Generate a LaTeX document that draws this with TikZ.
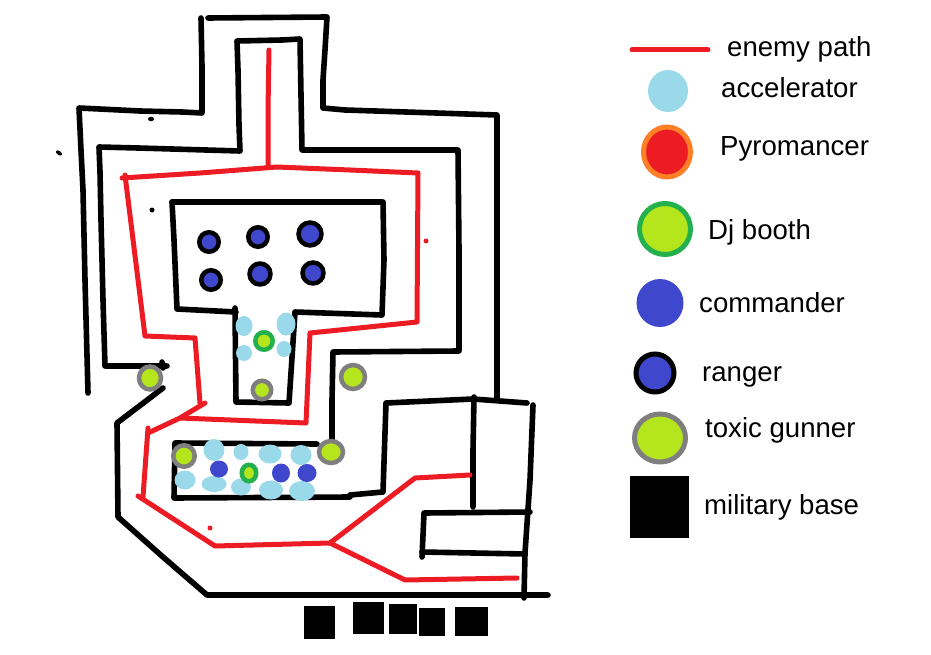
\documentclass[tikz,border=0pt]{standalone}
\usepackage{fontspec}
\setmainfont{Liberation Sans}
\usetikzlibrary{shapes.geometric}
\definecolor{pathred}{HTML}{ED1C24}
\definecolor{accblue}{HTML}{99D9EA}
\definecolor{pyroorange}{HTML}{FF7F27}
\definecolor{lime}{HTML}{B5E61D}
\definecolor{djgreen}{HTML}{22B14C}
\definecolor{cmdblue}{HTML}{3F48CC}
\definecolor{gunnergray}{HTML}{7F7F7F}
\tikzset{
  wall/.style={line width=5.6pt,line cap=round,line join=round,black},
  route/.style={line width=5pt,line cap=round,line join=round,pathred},
  blob/.style 2 args={ellipse,inner sep=0pt,outer sep=0pt,minimum width=#1 pt,minimum height=#2 pt},
  acc/.style 2 args={blob={#1}{#2},fill=accblue},
  cmd/.style 2 args={blob={#1}{#2},fill=cmdblue},
  ranger/.style={blob={#1}{#1},fill=cmdblue,draw=black,line width=4.5pt},
  gunner/.style 2 args={blob={#1}{#2},fill=lime,draw=gunnergray,line width=4.5pt},
  dj/.style 2 args={blob={#1}{#2},fill=lime,draw=djgreen,line width=4.5pt},
  base/.style={fill=black},
  lbl/.style={anchor=base west,inner sep=0pt,font=\fontsize{27.6}{30}\selectfont,text=black},
}
\begin{document}
\begin{tikzpicture}[x=1pt,y=-1pt]
\useasboundingbox (0,0) rectangle (931,655);
% outer wall
\draw[wall] (88,393) -- (85,280) -- (83,190) -- (81,150) -- (79,108) -- (140,111) -- (182,112) -- (202,113) -- (202,66) -- (201,18);
\draw[wall] (208,18) -- (327,17) -- (325,50) -- (323,80) -- (323,108) -- (345,110) -- (497,115) -- (497,400);
% inner corridor wall
\draw[wall] (167,366) -- (105,366) -- (103,300) -- (101,220) -- (100,172) -- (99,147) -- (138,148) -- (206,150) -- (240,151) -- (239,125) -- (238,70) -- (237,41) -- (282,40) -- (300,39) -- (301,95) -- (302,150) -- (458,150) -- (459,250) -- (459,351) -- (333,352) -- (332,400) -- (332,440);
\draw[wall] (162,362) -- (163,368);
% lower-left outer wall
\draw[wall] (163,388) -- (117,423) -- (118,517) -- (163,557) -- (207,595) -- (548,595);
% central T room
\draw[wall] (172,202) -- (383,202) -- (384,260) -- (382,315) -- (295,312) -- (289,403) -- (236,402) -- (235,308);
\draw[wall] (236,312) -- (177,309) -- (174,240) -- (172,202);
% turret slot room
\draw[wall] (317,444) -- (175,443) -- (174,498) -- (350,497) -- (350,495) -- (383,492) -- (386,403) -- (473,399) -- (527,403);
% right rooms
\draw[wall] (474,397) -- (473,450) -- (473,507);
\draw[wall] (533,405) -- (530,480) -- (525,553) -- (524,598);
\draw[wall] (530,512) -- (424,513) -- (422,557);
\draw[wall] (422,552) -- (525,554);
% specks
\node[ellipse,fill=black,inner sep=0pt,minimum width=6pt,minimum height=4.5pt] (s1) at (151,119) {};
\node[ellipse,fill=black,inner sep=0pt,minimum width=7pt,minimum height=4pt,rotate=-35] (s2) at (59,153) {};
\node[circle,fill=black,inner sep=0pt,minimum size=5pt] (s3) at (152,210) {};
\node[circle,fill=pathred,inner sep=0pt,minimum size=5pt] (r1) at (210,528) {};
\node[circle,fill=pathred,inner sep=0pt,minimum size=5pt] (r2) at (426,241) {};
% enemy path
\draw[route] (269,50) -- (268,110) -- (268,167);
\draw[route] (122,178) -- (200,173) -- (277,167) -- (350,170) -- (418,173) -- (417,322) -- (310,333) -- (306,423) -- (180,418);
\draw[route] (125,175) -- (145,336) -- (195,338) -- (200,403);
\draw[route] (205,403) -- (180,418) -- (148,433);
\draw[route] (148,428) -- (143,497);
\draw[route] (138,496) -- (215,546) -- (330,543) -- (415,478) -- (470,475);
\draw[route] (330,543) -- (405,580) -- (517,578);
% rangers
\node[ranger=19.5] (ra) at (209,242) {};
\node[ranger=19.5] (rb) at (258,237) {};
\node[ranger=23] (rc) at (310,234) {};
\node[ranger=19.5] (rd) at (211,280) {};
\node[ranger=21] (re) at (260,274) {};
\node[ranger=21] (rf) at (313,273) {};
% gunners
\node[gunner={22}{23}] (ga) at (150,378) {};
\node[gunner={24}{24}] (gb) at (353,377) {};
\node[gunner={18.5}{18.5}] (gc) at (262,390) {};
\node[gunner={21.5}{21.5}] (gd) at (184,456) {};
\node[gunner={24}{22}] (ge) at (331,452) {};
% T-room support
\node[acc={17}{20}] (aa) at (244,326) {};
\node[acc={19}{23}] (ab) at (286,324) {};
\node[acc={16}{16}] (ac) at (244,353) {};
\node[acc={15}{16}] (ad) at (284,349) {};
\node[dj={17.5}{17.5}] (da) at (264,341) {};
% slot-room support
\node[acc={21}{22}] (ae) at (214,450) {};
\node[acc={15}{16}] (af) at (241,452) {};
\node[acc={23}{19}] (ag) at (270,454) {};
\node[acc={21}{20}] (ah) at (301,455) {};
\node[acc={21}{19}] (ai) at (185,480) {};
\node[acc={25}{16}] (aj) at (214,484) {};
\node[acc={20}{17}] (ak) at (241,487) {};
\node[acc={24}{19}] (al) at (271,490) {};
\node[acc={26}{20}] (am) at (302,491) {};
\node[cmd={18}{17}] (ca) at (219,469) {};
\node[cmd={18}{19}] (cb) at (281,473) {};
\node[cmd={19}{18}] (cc) at (307,473) {};
\node[dj={14.5}{16.5}] (db) at (249,473) {};
% military bases
\node[base,minimum width=31pt,minimum height=33pt,inner sep=0pt] (b1) at (319.5,622.5) {};
\node[base,minimum width=31pt,minimum height=32pt,inner sep=0pt] (b2) at (368.5,618) {};
\node[base,minimum width=28pt,minimum height=30pt,inner sep=0pt] (b3) at (403,619) {};
\node[base,minimum width=26pt,minimum height=28pt,inner sep=0pt] (b4) at (432,622) {};
\node[base,minimum width=33pt,minimum height=29pt,inner sep=0pt] (b5) at (471.5,621.5) {};
% legend
\coordinate (la) at (632,50);
\coordinate (lb) at (708,50);
\draw[route] (la) -- (lb);
\node[lbl] (t1) at (727,57) {enemy path};
\node[acc={40}{42}] (l2) at (668,91) {};
\node[lbl] (t2) at (721,97.5) {accelerator};
\node[blob={47}{50},fill=pathred,draw=pyroorange,line width=5pt] (l3) at (667,152) {};
\node[lbl] (t3) at (720,155.5) {Pyromancer};
\node[blob={51}{51},fill=lime,draw=djgreen,line width=5pt] (l4) at (665,229) {};
\node[lbl] (t4) at (708,239) {Dj booth};
\node[cmd={47}{48}] (l5) at (660,303) {};
\node[lbl] (t5) at (699,312) {commander};
\node[blob={38}{38},fill=cmdblue,draw=black,line width=5pt] (l6) at (655,373) {};
\node[lbl] (t6) at (702,381) {ranger};
\node[blob={51}{48},fill=lime,draw=gunnergray,line width=5pt] (l7) at (660,438) {};
\node[lbl] (t7) at (705,437) {toxic gunner};
\node[base,minimum width=59pt,minimum height=62pt,inner sep=0pt] (l8) at (659.5,507) {};
\node[lbl] (t8) at (704,514) {military base};
\end{tikzpicture}
\end{document}
